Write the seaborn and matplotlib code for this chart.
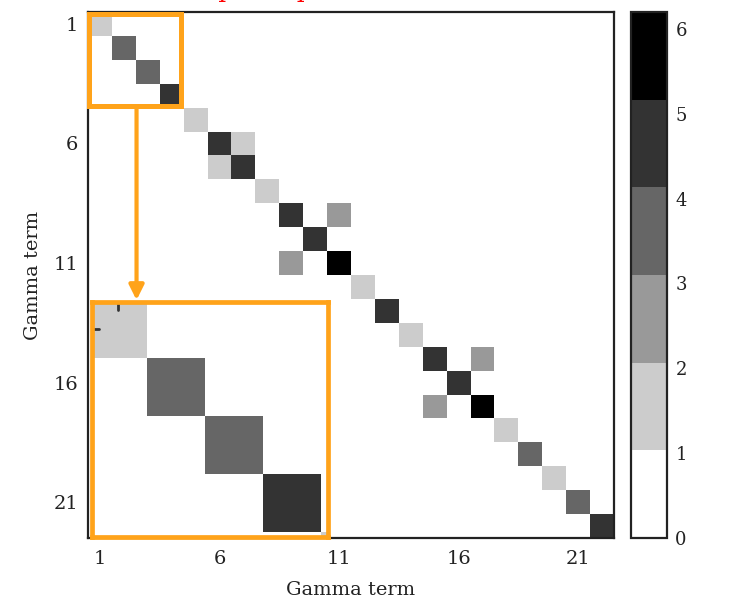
import numpy as np
import pandas as pd
import matplotlib
matplotlib.use("Agg")
import matplotlib.pyplot as plt
from matplotlib.colors import ListedColormap
from matplotlib.patches import Rectangle
from matplotlib.lines import Line2D
import seaborn as sns

sns.set_theme(style="white")
plt.rcParams['font.family'] = ['DejaVu Serif']

# ---- data -------------------------------------------------------------
n_terms = 22
term_labels = [str(i) for i in range(1, n_terms + 1)]
tick_terms = [1, 6, 11, 16, 21]
# diagonal values (term 1..22)
diag_values = [2, 4, 4, 5, 2, 5, 5, 2, 5, 5, 6, 2, 5, 2, 5, 5, 6, 2, 4, 2, 4, 5]
# off-diagonal (row term, column term, value)
off_rows = [6, 7, 9, 11, 15, 17]
off_cols = [7, 6, 11, 9, 17, 15]
off_values = [2, 2, 3, 3, 3, 3]
cbar_ticks = [0, 1, 2, 3, 4, 5, 6]
gray_levels = ['#ffffff', '#cccccc', '#999999', '#666666', '#333333', '#000000']
title_text = "Sparse parameter matrix"

mat = np.zeros((n_terms, n_terms))
for i, v in enumerate(diag_values):
    mat[i, i] = v
for r, c, v in zip(off_rows, off_cols, off_values):
    mat[r - 1, c - 1] = v
df = pd.DataFrame(mat, index=term_labels, columns=term_labels)

cmap = ListedColormap(gray_levels)
vmin, vmax = 0, 6.2
orange = '#FFA31A'

W, H = 733, 605
fig = plt.figure(figsize=(W / 100, H / 100), dpi=100)

def frac(x0, y0, x1, y1):
    return [x0 / W, 1 - y1 / H, (x1 - x0) / W, (y1 - y0) / H]

ax = fig.add_axes(frac(88, 12, 614, 538))
cax = fig.add_axes(frac(631, 12, 667, 538))

sns.heatmap(df, ax=ax, cmap=cmap, vmin=vmin, vmax=vmax, cbar_ax=cax,
            xticklabels=False, yticklabels=False, linewidths=0)

ax.set_xlim(0, n_terms)
ax.set_ylim(n_terms, 0)
pos = [t - 0.5 for t in tick_terms]
ax.set_xticks(pos)
ax.set_xticklabels([str(t) for t in tick_terms], fontsize=14, color='#222222')
ax.set_yticks(pos)
ax.set_yticklabels([str(t) for t in tick_terms], fontsize=14, color='#222222',
                   rotation=0)
ax.tick_params(direction='in', length=4, width=1.2, color='#222222',
               top=True, right=True, bottom=True, left=True)
ax.tick_params(axis='x', pad=9)
ax.tick_params(axis='y', pad=7)
for s in ax.spines.values():
    s.set_visible(True)
    s.set_color('#222222')
    s.set_linewidth(1.6)
ax.set_xlabel('Gamma term', fontsize=14, color='#222222', labelpad=9)
ax.set_ylabel('Gamma term', fontsize=14, color='#222222', labelpad=8)

# colorbar styling
cb = ax.collections[0].colorbar
cb.outline.set_visible(True)
cb.outline.set_linewidth(1.6)
cb.outline.set_edgecolor('#222222')
cb.set_ticks(cbar_ticks)
cb.set_ticklabels([str(t) for t in cbar_ticks])
cax.tick_params(direction='in', length=4, width=1.2, color='#222222',
                labelsize=13, labelcolor='#222222', right=True, left=False, pad=6)

# zoom rectangle on main axes
rect = Rectangle((0.05, 0.08), 3.85, 3.84, fill=False, edgecolor=orange,
                 linewidth=3.6, zorder=5, clip_on=False)
ax.add_patch(rect)

# arrow to inset
ax.annotate('', xy=(2.03, 12.05), xytext=(2.03, 3.95),
            arrowprops=dict(arrowstyle='-|>', color=orange, lw=3,
                            mutation_scale=22, shrinkA=0, shrinkB=0),
            annotation_clip=False, zorder=6)

# inset
iax = fig.add_axes(frac(91.7, 301.7, 328, 536.7))
sns.heatmap(df, ax=iax, cmap=cmap, vmin=vmin, vmax=vmax, cbar=False,
            xticklabels=False, yticklabels=False, linewidths=0)
iax.set_xlim(0.05, 4.12)
iax.set_ylim(4.09, 0.02)
iax.set_xticks([])
iax.set_yticks([])
iax.set_xlabel('')
iax.set_ylabel('')
for s in iax.spines.values():
    s.set_visible(True)
    s.set_color(orange)
    s.set_linewidth(3.4)
# magnified tick marks of the main axes
iax.add_line(Line2D([0.5, 0.5], [0.0, 0.17], color='#333333', lw=2))
iax.add_line(Line2D([0.0, 0.17], [0.5, 0.5], color='#333333', lw=2))

# title, mostly cut off at the top as in the reference
fig.text(0.493, 1 + 2.5 / H, title_text, color='red', fontsize=18,
         ha='center', va='baseline')

fig.savefig('out.png', dpi=100)
